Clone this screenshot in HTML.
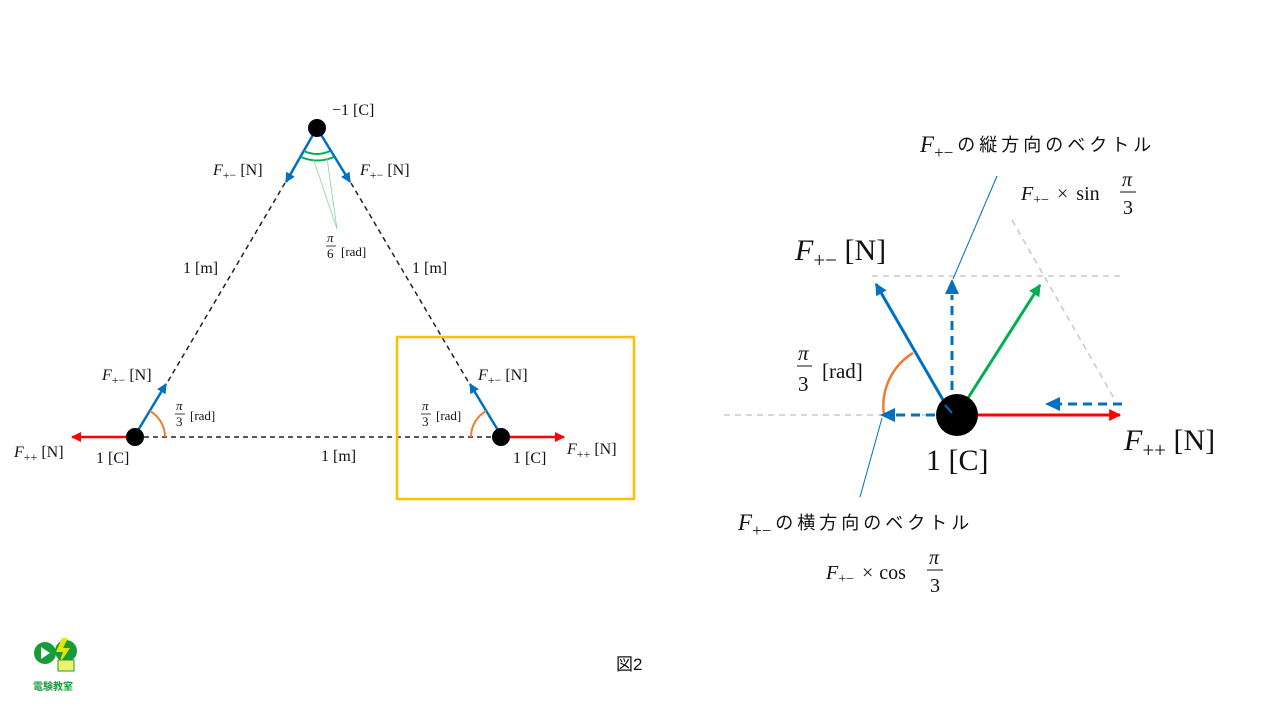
<!DOCTYPE html>
<html><head><meta charset="utf-8"><style>
html,body{margin:0;padding:0;background:#fff;width:1280px;height:720px;overflow:hidden}
svg{display:block}
text{font-family:"Liberation Serif","Noto Serif CJK SC",serif;fill:#111}
.i{font-style:italic}
.jp{font-family:"Liberation Sans","Noto Sans CJK JP",sans-serif}
</style></head><body>
<svg width="1280" height="720" viewBox="0 0 1280 720" xmlns="http://www.w3.org/2000/svg">
<defs>
<marker id="b" viewBox="0 0 10 10" refX="9" refY="5" markerWidth="4" markerHeight="4" orient="auto"><path d="M0,0L10,5L0,10z" fill="#0070C0"/></marker>
<marker id="r" viewBox="0 0 10 10" refX="9" refY="5" markerWidth="4" markerHeight="4" orient="auto"><path d="M0,0L10,5L0,10z" fill="#FF0000"/></marker>
<marker id="g" viewBox="0 0 10 10" refX="9" refY="5" markerWidth="4" markerHeight="4" orient="auto"><path d="M0,0L10,5L0,10z" fill="#00B050"/></marker>
</defs>

<g stroke="#222" stroke-width="1.5" stroke-dasharray="5,4" fill="none">
<line x1="285" y1="183" x2="167" y2="383"/>
<line x1="351" y1="183" x2="469" y2="383"/>
<line x1="135" y1="437" x2="501" y2="437"/>
</g>
<g stroke="#0070C0" stroke-width="2.5" marker-end="url(#b)">
<line x1="314" y1="133" x2="286" y2="182"/>
<line x1="320" y1="133" x2="350" y2="182"/>
<line x1="137" y1="432" x2="166" y2="384"/>
<line x1="499" y1="432" x2="470" y2="384"/>
</g>
<g stroke="#FF0000" stroke-width="2.5" marker-end="url(#r)">
<line x1="135" y1="437" x2="72" y2="437"/>
<line x1="501" y1="437" x2="564" y2="437"/>
</g>
<g fill="none" stroke="#00B050" stroke-width="2">
<path d="M304,151 Q317,157 330,151"/>
<path d="M301,157 Q317,164 334,157"/>
</g>
<g stroke="#7fd9a0" stroke-width="0.8">
<line x1="313" y1="158" x2="337" y2="229"/>
<line x1="327" y1="158" x2="337" y2="229"/>
</g>
<g fill="none" stroke="#ED7D31" stroke-width="2">
<path d="M165,437 A30,30 0 0 0 150,411"/>
<path d="M471,437 A30,30 0 0 1 486,411"/>
</g>
<circle cx="317" cy="128" r="9" fill="#000"/>
<circle cx="135" cy="437" r="9" fill="#000"/>
<circle cx="501" cy="437" r="9" fill="#000"/>
<rect x="397" y="337" width="237" height="162" fill="none" stroke="#FFC000" stroke-width="2.5"/>

<g font-size="16">
<text x="332" y="115">−1 [C]</text>
<text x="213" y="175"><tspan class="i">F</tspan><tspan font-size="12" dy="4">+−</tspan><tspan dy="-4"> [N]</tspan></text>
<text x="360" y="175"><tspan class="i">F</tspan><tspan font-size="12" dy="4">+−</tspan><tspan dy="-4"> [N]</tspan></text>
<text x="183" y="273">1 [m]</text>
<text x="412" y="273">1 [m]</text>
<text x="102" y="380"><tspan class="i">F</tspan><tspan font-size="12" dy="4">+−</tspan><tspan dy="-4"> [N]</tspan></text>
<text x="478" y="380"><tspan class="i">F</tspan><tspan font-size="12" dy="4">+−</tspan><tspan dy="-4"> [N]</tspan></text>
<text x="14" y="457"><tspan class="i">F</tspan><tspan font-size="12" dy="4">++</tspan><tspan dy="-4"> [N]</tspan></text>
<text x="567" y="454"><tspan class="i">F</tspan><tspan font-size="12" dy="4">++</tspan><tspan dy="-4"> [N]</tspan></text>
<text x="96" y="463">1 [C]</text>
<text x="513" y="463">1 [C]</text>
<text x="321" y="461">1 [m]</text>
</g>
<g font-size="13">
<text x="327" y="242" class="i">π</text><line x1="326" y1="246" x2="336" y2="246" stroke="#111" stroke-width="0.8"/><text x="327" y="258">6</text><text x="341" y="256">[rad]</text>
<text x="176" y="410" class="i">π</text><line x1="175" y1="414" x2="185" y2="414" stroke="#111" stroke-width="0.8"/><text x="176" y="426">3</text><text x="190" y="420">[rad]</text>
<text x="422" y="410" class="i">π</text><line x1="421" y1="414" x2="431" y2="414" stroke="#111" stroke-width="0.8"/><text x="422" y="426">3</text><text x="436" y="420">[rad]</text>
</g>

<g stroke="#c8c8c8" stroke-width="1.5" stroke-dasharray="6,5" fill="none">
<line x1="872" y1="276" x2="1125" y2="276"/>
<line x1="1012" y1="220" x2="1115" y2="400"/>
<line x1="724" y1="415" x2="935" y2="415"/>
</g>
<g stroke="#0070C0" stroke-width="1" fill="none">
<line x1="997" y1="176" x2="953" y2="279"/>
<line x1="882" y1="418" x2="860" y2="497"/>
</g>
<path d="M913,353 A62,62 0 0 0 884,415" fill="none" stroke="#ED7D31" stroke-width="2.5"/>
<g stroke="#0070C0" stroke-width="3" stroke-dasharray="9,6" fill="none">
<line x1="952" y1="405" x2="952" y2="295"/>
<line x1="935" y1="415" x2="895" y2="415"/>
<line x1="1122" y1="404" x2="1060" y2="404"/>
</g>
<g fill="#0070C0">
<path d="M952,279 L945,294 L959,294z"/>
<path d="M880,415 L895,408 L895,422z"/>
<path d="M1045,404 L1060,397 L1060,411z"/>
</g>
<line x1="950" y1="412" x2="876" y2="284" stroke="#0070C0" stroke-width="3" marker-end="url(#b)"/>
<line x1="968" y1="398" x2="1040" y2="285" stroke="#00B050" stroke-width="3" marker-end="url(#g)"/>
<line x1="975" y1="415" x2="1120" y2="415" stroke="#FF0000" stroke-width="3" marker-end="url(#r)"/>
<circle cx="957" cy="415" r="21" fill="#000"/>
<path d="M945,405 L952,413" stroke="#0070C0" stroke-width="2"/>

<text x="920" y="152" font-size="23"><tspan class="i">F</tspan><tspan font-size="17" dy="6">+−</tspan><tspan class="jp" font-size="18" dy="-7" dx="4" letter-spacing="4">の縦方向のベクトル</tspan></text>
<text x="1021" y="200" font-size="20"><tspan class="i">F</tspan><tspan font-size="14" dy="4">+−</tspan><tspan dy="-4" dx="8">×</tspan><tspan dx="8">sin</tspan></text>
<text x="1122" y="186" font-size="20" class="i">π</text><line x1="1120" y1="192" x2="1136" y2="192" stroke="#111" stroke-width="1"/><text x="1123" y="214" font-size="20">3</text>
<text x="795" y="260" font-size="30"><tspan class="i">F</tspan><tspan font-size="21" dy="7">+−</tspan><tspan dy="-7"> [N]</tspan></text>
<text x="798" y="360" font-size="21" class="i">π</text><line x1="797" y1="366" x2="812" y2="366" stroke="#111" stroke-width="1"/><text x="798" y="391" font-size="21">3</text><text x="822" y="378" font-size="21">[rad]</text>
<text x="926" y="470" font-size="30">1 [C]</text>
<text x="1124" y="450" font-size="30"><tspan class="i">F</tspan><tspan font-size="21" dy="7">++</tspan><tspan dy="-7"> [N]</tspan></text>
<text x="738" y="530" font-size="23"><tspan class="i">F</tspan><tspan font-size="17" dy="6">+−</tspan><tspan class="jp" font-size="18" dy="-7" dx="4" letter-spacing="4">の横方向のベクトル</tspan></text>
<text x="826" y="579" font-size="20"><tspan class="i">F</tspan><tspan font-size="14" dy="4">+−</tspan><tspan dy="-4" dx="8">×</tspan><tspan dx="6">cos</tspan></text>
<text x="929" y="564" font-size="20" class="i">π</text><line x1="927" y1="570" x2="943" y2="570" stroke="#111" stroke-width="1"/><text x="930" y="592" font-size="20">3</text>

<text x="616" y="670" font-size="17" class="jp">図2</text>

<circle cx="45" cy="653" r="11" fill="#1a9b3a"/>
<path d="M41,647 L50,653 L41,659z" fill="#fff"/>
<circle cx="66" cy="651" r="11" fill="#1a9b3a"/>
<path d="M62,638 L56,652 L63,652 L58,666 L70,648 L63,648 L68,638z" fill="#e6e600"/>
<rect x="58" y="660" width="16" height="11" fill="#f0f070" stroke="#1a9b3a"/>
<text x="33" y="690" font-size="10" font-weight="bold" class="jp" style="fill:#1a9b3a">電験教室</text>
</svg>
</body></html>
